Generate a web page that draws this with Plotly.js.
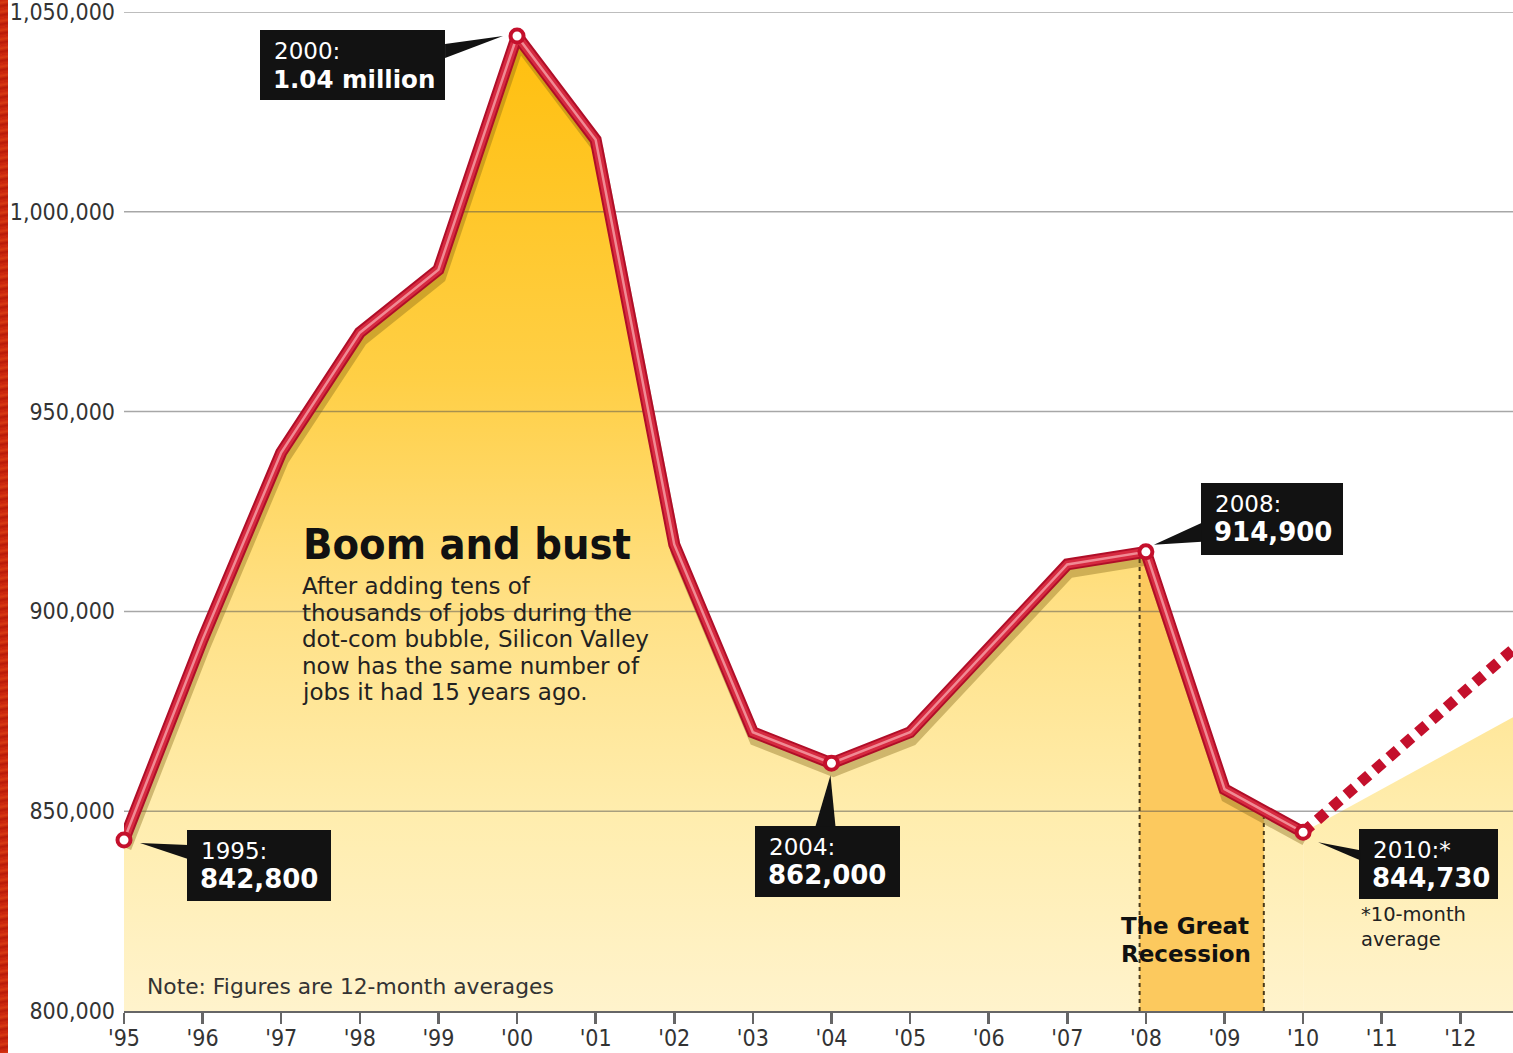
<!DOCTYPE html>
<html><head><meta charset="utf-8">
<script src="https://cdn.plot.ly/plotly-3.0.1.min.js"></script>
<style>
html,body{margin:0;padding:0;background:#fff;overflow:hidden;}
#chart{width:1513px;height:1053px;}
#strip{position:absolute;left:0;top:0;width:8px;height:1053px;z-index:5;
background:repeating-linear-gradient(170deg,#c8220c 0px,#d83a12 3px,#b81a08 6px,#cf2c0e 9px);}
</style></head><body>
<div id="strip"></div>
<div id="chart"></div>
<script>
// ---- data ----
const years = [1995,1996,1997,1998,1999,2000,2001,2002,2003,2004,2005,2006,2007,2008,2009,2010];
const jobs  = [842800,893000,939750,969750,985500,1044000,1018000,916750,869750,862000,869750,890750,911750,914900,855500,844730];
const projYears = [2010, 2012.67];
const projJobs = [844730, 890500];
const projAreaJobs = [844730, 873500];
const keyYears = [1995, 2000, 2004, 2008, 2010];
const keyJobs = [842800, 1044000, 862000, 914900, 844730];
const keyLabels = ['1995:', '2000:', '2004:', '2008:', '2010:*'];
const keyValues = ['842,800', '1.04 million', '862,000', '914,900', '844,730'];
const recessionStart = 2007.92;   // Dec 2007
const recessionEnd = 2009.5;      // June 2009
const yTicks = [800000, 850000, 900000, 950000, 1000000, 1050000];
const yTickText = ['800,000', '850,000', '900,000', '950,000', '1,000,000', '1,050,000'];
const xTicks = [1995,1996,1997,1998,1999,2000,2001,2002,2003,2004,2005,2006,2007,2008,2009,2010,2011,2012];
const xTickText = ["'95","'96","'97","'98","'99","'00","'01","'02","'03","'04","'05","'06","'07","'08","'09","'10","'11","'12"];
const bodyLines = ['After adding tens of', 'thousands of jobs during the', 'dot-com bubble, Silicon Valley', 'now has the same number of', 'jobs it had 15 years ago.'];

// ---- layout helpers ----
const W = 1513, H = 1053, ML = 124, MR = 0, MT = 12, MB = 42;
const PW = W - ML - MR, PH = H - MT - MB;
const X0 = 1995, X1 = 2012.67, Y0 = 800000, Y1 = 1050000;
const px = v => (v - ML) / PW;           // screen x -> paper
const py = v => (H - MB - v) / PH;       // screen y -> paper
const xPix = v => ML + (v - X0) / (X1 - X0) * PW;
const yPix = v => MT + (Y1 - v) / (Y1 - Y0) * PH;

function interp(x) {
  for (let i = 0; i < years.length - 1; i++) {
    if (x >= years[i] && x <= years[i + 1]) {
      const t = (x - years[i]) / (years[i + 1] - years[i]);
      return jobs[i] + t * (jobs[i + 1] - jobs[i]);
    }
  }
  return jobs[jobs.length - 1];
}

const grad = {type: 'vertical', start: 800000, stop: 1044000,
  colorscale: [[0, '#FFF3CC'], [0.2, '#FFEDAE'], [0.42, '#FFE084'], [0.65, '#FFCF45'], [1, '#FFBF0E']]};

const recX = years.filter(y => y > recessionStart && y < recessionEnd);
const bandX = [recessionStart].concat(recX, [recessionEnd]);
const bandY = bandX.map(interp);

const gridX = [], gridY = [];
yTicks.slice(1).forEach(v => { gridX.push(X0, X1, null); gridY.push(v, v, null); });

const traces = [
  {x: years, y: jobs, mode: 'lines', line: {width: 0}, fill: 'tozeroy', fillgradient: grad, hoverinfo: 'skip'},
  {x: projYears, y: projAreaJobs, mode: 'lines', line: {width: 0}, fill: 'tozeroy', fillgradient: grad, hoverinfo: 'skip'},
  {x: bandX, y: bandY, mode: 'lines', line: {width: 0}, fill: 'tozeroy', fillcolor: '#FCC95E', hoverinfo: 'skip'},
  {x: gridX, y: gridY, mode: 'lines', line: {width: 1.5, color: 'rgba(80,80,80,0.5)'}, hoverinfo: 'skip'},
  {x: [recessionStart, recessionStart, null, recessionEnd, recessionEnd],
   y: [Y0, interp(recessionStart), null, Y0, interp(recessionEnd)],
   mode: 'lines', line: {width: 2, color: '#4a3a1a', dash: '4px,4px'}, hoverinfo: 'skip'},
  {x: years, y: jobs, mode: 'lines', line: {width: 11, color: 'rgba(130,100,20,0.38)'}, hoverinfo: 'skip'},
  {x: projYears, y: projJobs, mode: 'lines', line: {width: 11, color: '#C4102C', dash: '11px,8px'}, hoverinfo: 'skip'},
  {x: years, y: jobs, mode: 'lines', line: {width: 12, color: '#B00E28'}, hoverinfo: 'skip', cliponaxis: false},
  {x: years, y: jobs, mode: 'lines', line: {width: 8, color: '#D62A40'}, hoverinfo: 'skip', cliponaxis: false},
  {x: years, y: jobs, mode: 'lines', line: {width: 2.5, color: '#F08A94'}, hoverinfo: 'skip', cliponaxis: false},
  {x: keyYears, y: keyJobs, mode: 'markers', cliponaxis: false,
   marker: {size: 13, color: '#ffffff', line: {width: 4, color: '#C4102C'}}, hoverinfo: 'skip'}
];

// callout boxes: [left, top, width, height] in screen px; wedge path in px relative to the point (y up)
const boxGeom = [
  [187, 830, 144, 71],
  [260, 30, 185, 70],
  [755, 826, 145, 71],
  [1201, 483, 142, 72],
  [1359, 829, 139, 70]
];
const valueFontSize = [26, 24.5, 26, 26, 26];
const wedges = [
  'M 16 -3 L 64 -5 L 64 -19 Z',
  'M -14 0 L -72 -8 L -72 -22 Z',
  'M -1 -12 L -16 -63 L 4 -63 Z',
  'M 8 7 L 56 29 L 56 10 Z',
  'M 15 -10 L 57 -18 L 57 -28 Z'
];

const annotations = [];
const shapes = [];
keyYears.forEach((yr, i) => {
  const [l, t, bw, bh] = boxGeom[i];
  const ax = xPix(yr), ay = yPix(keyJobs[i]);
  shapes.push({type: 'rect', xref: 'x', yref: 'y', xsizemode: 'pixel', ysizemode: 'pixel',
    xanchor: yr, yanchor: keyJobs[i], x0: l - ax, x1: l + bw - ax, y0: ay - (t + bh), y1: ay - t,
    fillcolor: '#121212', line: {width: 0}, layer: 'above'});
  shapes.push({type: 'path', xref: 'x', yref: 'y', xsizemode: 'pixel', ysizemode: 'pixel',
    xanchor: yr, yanchor: keyJobs[i], path: wedges[i], fillcolor: '#121212', line: {width: 0}, layer: 'above'});
  annotations.push({xref: 'x', yref: 'y', x: yr, y: keyJobs[i], xanchor: 'left', yanchor: 'middle',
    xshift: l + 12 - ax, yshift: ay - (t + 21), showarrow: false,
    text: keyLabels[i], font: {family: 'DejaVu Sans', size: 23, color: '#ffffff'}});
  annotations.push({xref: 'x', yref: 'y', x: yr, y: keyJobs[i], xanchor: 'left', yanchor: 'middle',
    xshift: l + 11 - ax, yshift: ay - (t + 49), showarrow: false,
    text: '<b>' + keyValues[i] + '</b>', font: {family: 'DejaVu Sans', size: valueFontSize[i], color: '#ffffff'}});
});

annotations.push({xref: 'paper', yref: 'paper', x: px(301), y: py(544), xanchor: 'left', yanchor: 'middle',
  showarrow: false, text: '<b>Boom and bust</b>', font: {family: 'DejaVu Sans Condensed', size: 43, color: '#111'}});
bodyLines.forEach((ln, i) => {
  annotations.push({xref: 'paper', yref: 'paper', x: px(300), y: py(586 + i * 26.6), xanchor: 'left', yanchor: 'middle',
    showarrow: false, text: ln, font: {family: 'DejaVu Sans', size: 23, color: '#222'}});
});
annotations.push({xref: 'paper', yref: 'paper', x: px(145), y: py(986), xanchor: 'left', yanchor: 'middle',
  showarrow: false, text: 'Note: Figures are 12-month averages', font: {family: 'DejaVu Sans', size: 21.8, color: '#333'}});
annotations.push({xref: 'paper', yref: 'paper', x: px(1119), y: py(926), xanchor: 'left', yanchor: 'middle',
  showarrow: false, text: '<b>The Great</b>', font: {family: 'DejaVu Sans', size: 23, color: '#111'}});
annotations.push({xref: 'paper', yref: 'paper', x: px(1119), y: py(954), xanchor: 'left', yanchor: 'middle',
  showarrow: false, text: '<b>Recession</b>', font: {family: 'DejaVu Sans', size: 23, color: '#111'}});
annotations.push({xref: 'paper', yref: 'paper', x: px(1359), y: py(927), xanchor: 'left', yanchor: 'middle',
  showarrow: false, align: 'left', text: '*10-month<br>average', font: {family: 'DejaVu Sans', size: 19.5, color: '#222'}});

const layout = {
  width: W, height: H, margin: {l: ML, r: MR, t: MT, b: MB, pad: 0},
  paper_bgcolor: '#ffffff', plot_bgcolor: '#ffffff', showlegend: false,
  xaxis: {range: [X0, X1], tickmode: 'array', tickvals: xTicks, ticktext: xTickText,
    ticks: 'outside', ticklen: 11, tickwidth: 2.5, tickcolor: '#666', showline: true, linecolor: '#666', linewidth: 2,
    showgrid: false, zeroline: false, fixedrange: true, ticklabelstandoff: -6,
    tickfont: {family: 'DejaVu Sans Condensed', size: 23, color: '#333'}},
  yaxis: {range: [Y0 - 1, Y1 + 1], tickmode: 'array', tickvals: yTicks, ticktext: yTickText,
    ticks: '', showline: false, showgrid: false, zeroline: false, fixedrange: true, ticklabelstandoff: 8,
    ticklabeloverflow: 'allow',
    tickfont: {family: 'DejaVu Sans Condensed', size: 23, color: '#333'}},
  annotations: annotations, shapes: shapes, hovermode: false
};

Plotly.newPlot('chart', traces, layout, {displayModeBar: false, staticPlot: true}).then(gd => {
  const tr = gd.querySelectorAll('.scatterlayer .trace');
  if (tr[5]) tr[5].setAttribute('transform', 'translate(2,8)');
});
</script>
</body></html>
